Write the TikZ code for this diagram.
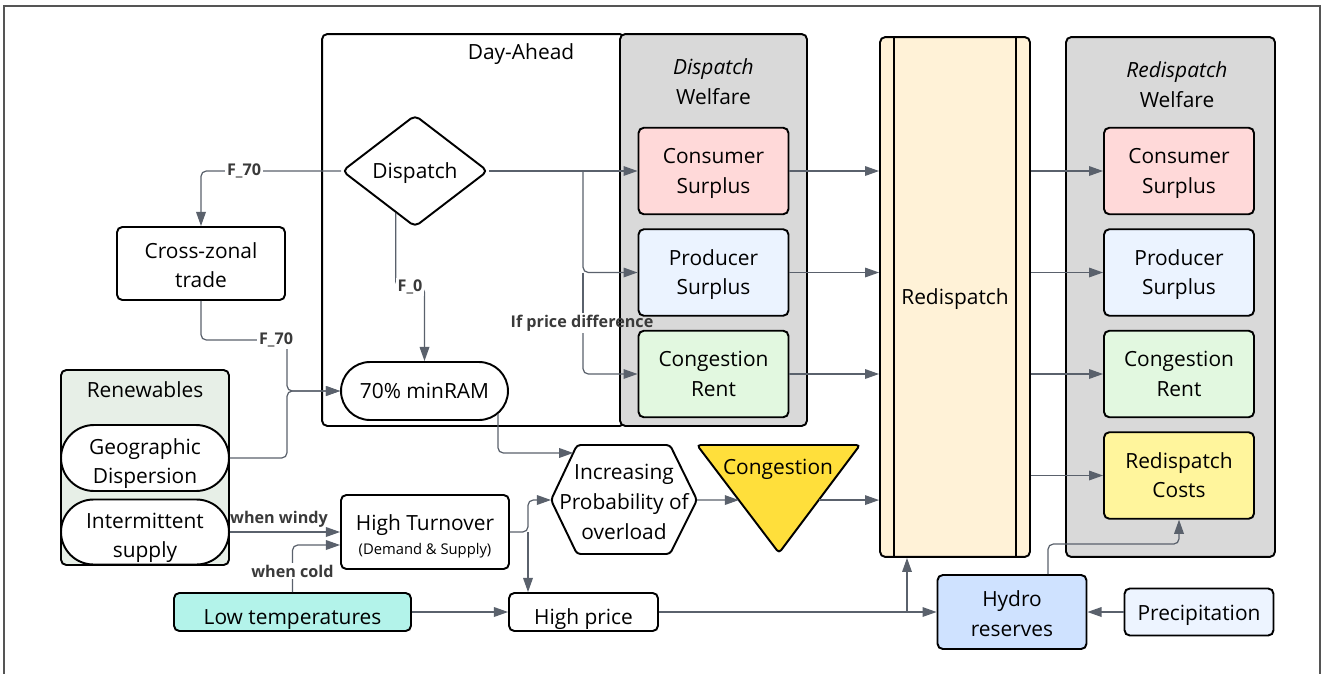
\documentclass[tikz,border=0pt]{standalone}
\usepackage{fontspec}
\setmainfont{Open Sans}
\usepackage{xcolor}
\usetikzlibrary{shapes.geometric,shapes.misc,arrows.meta,calc,positioning}

\definecolor{panelgray}{HTML}{D9D9D9}
\definecolor{conspink}{HTML}{FFD9D9}
\definecolor{prodblue}{HTML}{EBF3FF}
\definecolor{rentgreen}{HTML}{E2F8E0}
\definecolor{costyellow}{HTML}{FFF59C}
\definecolor{congyellow}{HTML}{FFDF3B}
\definecolor{cream}{HTML}{FFF2D7}
\definecolor{hydroblue}{HTML}{CFE2FF}
\definecolor{rainblue}{HTML}{EDF4FF}
\definecolor{coldaqua}{HTML}{B3F3EA}
\definecolor{renewgreen}{HTML}{E7EFE7}
\definecolor{linegray}{HTML}{5A616C}
\definecolor{labelgray}{HTML}{3A3A3A}
\definecolor{framegray}{HTML}{555555}

\begin{document}
\begin{tikzpicture}[x=0.02cm, y=-0.02cm,
    font=\fontsize{11.9}{17}\selectfont,
    box/.style={draw, line width=1.1pt, rounded corners=3pt, align=center, inner sep=0pt},
    txt/.style={text height=#1, text depth=0pt},
    welbox/.style={box, txt=25.5pt, minimum width=3cm, minimum height=1.73cm},
    pill/.style={draw, line width=1.1pt, rounded rectangle, align=center, inner sep=0pt, fill=white},
    conn/.style={draw=linegray, line width=0.7pt, rounded corners=3pt, -{Triangle[length=8pt,width=5.5pt]}},
    wire/.style={draw=linegray, line width=0.7pt},
    lbl/.style={font=\fontsize{9.2}{11}\selectfont\bfseries, text=labelgray, fill=white, inner sep=1pt}
]

    \useasboundingbox (0,0) rectangle (1322,673);
    \clip (0,0) rectangle (1322,673);

    %frame
    \draw [framegray, line width=0.6pt] (4,700) -- (4,6) -- (1320,6) -- (1320,700);

    %day-ahead and welfare panels
    \node [box, fill=white, minimum width=6.06cm, minimum height=7.84cm] (dayahead) at (473.5,230) {};
    \node (datitle) at (521,54) {Day-Ahead};
    \node [box, fill=panelgray, minimum width=3.74cm, minimum height=7.84cm] (dwel) at (713.5,230) {};
    \node [align=center] (dweltitle) at (713.5,82) {\textit{Dispatch}\\Welfare};
    \node [box, txt=9pt, fill=cream, minimum width=3cm, minimum height=10.4cm] (redisp) at (955,297) {Redispatch};
    \draw [line width=1.1pt] ($(redisp.north west)+(15,0)$) -- ($(redisp.south west)+(15,0)$);
    \draw [line width=1.1pt] ($(redisp.north east)+(-15,0)$) -- ($(redisp.south east)+(-15,0)$);
    \node [box, fill=panelgray, minimum width=4.18cm, minimum height=10.4cm] (rwel) at (1170.5,297) {};
    \node [align=center] (rweltitle) at (1177,85) {\textit{Redispatch}\\Welfare};

    %welfare boxes
    \foreach \x/\p in {713.5/d,1179/r} {
        \node [welbox, fill=conspink] (\p cons) at (\x,171) {Consumer\\Surplus};
        \node [welbox, fill=prodblue] (\p prod) at (\x,272.5) {Producer\\Surplus};
        \node [welbox, fill=rentgreen] (\p rent) at (\x,374) {Congestion\\Rent};
    }
    \node [welbox, fill=costyellow] (rcost) at (1179,475.5) {Redispatch\\Costs};

    %day-ahead content
    \node [box, diamond, txt=9pt, fill=white, minimum width=2.92cm, minimum height=2.24cm] (disp) at (415,171) {Dispatch};
    \node [pill, txt=9pt, minimum width=3.34cm, minimum height=1.16cm] (minram) at (424.5,391) {70\% minRAM};

    %left side
    \node [box, txt=27.8pt, fill=white, minimum width=3.36cm, minimum height=1.46cm] (cross) at (201,263.5) {Cross-zonal\\trade};
    \node [box, fill=renewgreen, minimum width=3.36cm, minimum height=3.9cm] (renew) at (145,467.5) {};
    \node (renewtitle) at (145,390) {Renewables};
    \node [pill, txt=29.5pt, minimum width=3.36cm, minimum height=1.32cm] (geo) at (145,458) {Geographic\\Dispersion};
    \node [pill, txt=29.5pt, minimum width=3.36cm, minimum height=1.3cm] (inter) at (145,532) {Intermittent\\supply};
    \node [box, txt=26pt, fill=white, minimum width=3.36cm, minimum height=1.48cm] (turn) at (425,532)
        {High Turnover\\[-3pt]{\fontsize{8.4}{10}\selectfont(Demand \& Supply)}};
    \node [box, txt=14.2pt, fill=coldaqua, minimum width=4.74cm, minimum height=0.76cm] (lowtemp) at (292.5,612) {Low temperatures};
    \node [box, txt=14.2pt, fill=white, minimum width=2.98cm, minimum height=0.76cm] (highprice) at (583.5,612) {High price};

    %overload and congestion
    \draw [line width=1.1pt, fill=white, rounded corners=2pt] (551,500) coordinate (hw) -- (577,445) coordinate (hnw)
        -- (670,445) -- (697,500) coordinate (he) -- (670,554) -- (577,554) -- cycle;
    \node [align=center] (incr) at (624,502) {Increasing\\Probability of\\overload};
    \draw [line width=1.1pt, fill=congyellow, rounded corners=2pt] (697,445) coordinate (tl) -- (860,445) coordinate (tr)
        -- (779,553) coordinate (tb) -- cycle;
    \node (congtxt) at (778,469) {Congestion};

    %bottom right
    \node [box, txt=27.8pt, fill=hydroblue, minimum width=2.98cm, minimum height=1.48cm] (hydro) at (1012,612) {Hydro\\reserves};
    \node [box, txt=9.6pt, fill=rainblue, minimum width=2.98cm, minimum height=0.94cm] (precip) at (1199,612) {Precipitation};

    %helper points
    \coordinate (split) at (583,171);
    \coordinate (f0pt) at (410,287);
    \coordinate (f70pt) at (276,340);
    \coordinate (mj) at (287,391);
    \coordinate (tsplit) at (528,532);
    \coordinate (hsplit) at (907,612);
    \coordinate (hin) at ($(hnw)!0.145!(hw)$);
    \coordinate (ce) at ($(tr)!0.51!(tb)$);

    \node [lbl, fill=none] (lprice) at (582,323) {If price difference};

    %connectors
    \draw [conn] (disp.west) -| (cross.north);
    \draw [conn] ($(disp.south)!0.26!(disp.west)$) |- (f0pt) -| (minram.north);
    \draw [conn] (disp.east) -- (dcons.west);
    \draw [conn] (split) |- (dprod.west);
    \draw [wire] (split |- dprod.west) -- (split |- lprice.north);
    \draw [conn] (split |- lprice.south) |- (drent.west);
    \draw [conn] (cross.south) |- (f70pt) -| (mj) -- (minram.west);
    \draw [conn] (geo.east) -| (mj) -- (minram.west);
    \draw [conn] ($(minram.east)+(-11,23)$) |- (hin);
    \draw [conn] (inter.east) -- (turn.west);
    \draw [conn] (lowtemp.north) |- ($(turn.west)+(0,13)$);
    \draw [conn] (turn.east) -- (tsplit) |- (hw);
    \draw [conn] (tsplit) -- (tsplit |- highprice.north);
    \draw [conn] (lowtemp.east) -- (highprice.west);
    \draw [conn] (he) -- ($(tl)!0.51!(tb)$);
    \draw [conn] (ce) -- (ce -| redisp.west);
    \foreach \n in {cons,prod,rent}
        \draw [conn] (d\n.east) -- (redisp.west |- d\n.east);
    \foreach \n in {cons,prod,rent,cost}
        \draw [conn] (redisp.east |- r\n.west) -- (r\n.west);
    \draw [conn] (highprice.east) -- (hydro.west);
    \draw [conn] (hsplit) -- (hsplit |- redisp.south);
    \draw [conn] (precip.west) -- (hydro.east);
    \draw [conn] ($(hydro.north)+(36,0)$) -- ++(0,-30) -| (rcost.south);

    %labels
    \node [lbl] (lf70a) at (244,171) {F\_70};
    \node [lbl] (lf0) at (f0pt) {F\_0};
    \node [lbl] (lf70b) at (f70pt) {F\_70};
    \node [lbl, fill=none] (lwindy) at (279,519) {when windy};
    \node [lbl] (lcold) at (292.5,571) {when cold};

\end{tikzpicture}
\end{document}
